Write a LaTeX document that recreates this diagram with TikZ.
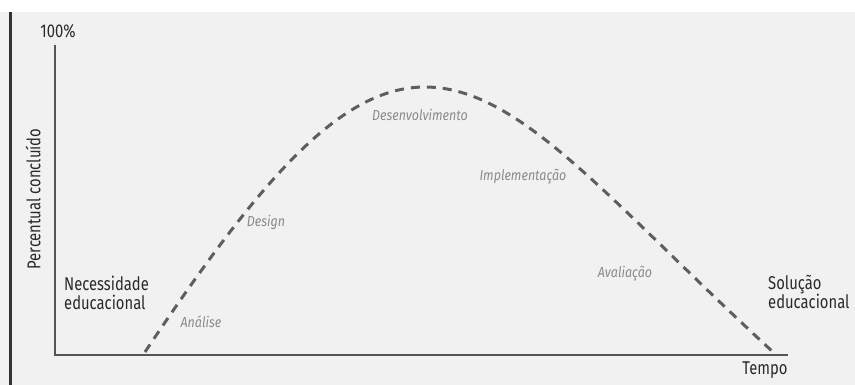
\documentclass[tikz,border=0pt]{standalone}
\usepackage{fontspec}
\setmainfont{Fira Sans}
\newfontfamily\narrowsans[FakeStretch=0.8]{Fira Sans}
\newfontfamily\stagesans[FakeStretch=0.86]{Fira Sans}
\begin{document}
\begin{tikzpicture}[x=1pt,y=-1pt,
  axis/.style={draw=axisgray,line width=2pt},
  phase/.style={dash pattern=on 9pt off 7pt,line width=3pt,draw=curvegray},
  stage/.style={font=\stagesans\fontsize{14.5}{16}\selectfont\itshape,text=labelgray,inner sep=0pt},
  endlabel/.style={font=\narrowsans\fontsize{18.5}{19}\selectfont,text=textdark,align=left,inner sep=0pt},
  axlabel/.style={font=\narrowsans\fontsize{18.5}{18}\selectfont,text=textdark,inner sep=0pt}]
\definecolor{bggray}{HTML}{F1F1F1}
\definecolor{axisgray}{HTML}{555555}
\definecolor{curvegray}{HTML}{5E5E5E}
\definecolor{labelgray}{HTML}{8A8A8A}
\definecolor{textdark}{HTML}{2A2A2A}
% canvas
\useasboundingbox (0,0) rectangle (855,385);
\fill[white] (0,0) rectangle (855,12);
\fill[bggray] (0,12) rectangle (855,385);
\fill[black!80] (9,12) rectangle (11.5,385);
% axes
\coordinate (top) at (55,45);
\coordinate (origin) at (55,355);
\coordinate (right) at (788,355);
\draw[axis] (top) -- (origin) -- (right);
\node[axlabel,anchor=base] (pct) at (58,38) {100\%};
\node[axlabel,rotate=90] (ylab) at (33,199) {Percentual concluído};
\node[axlabel] (xlab) at (765,370) {Tempo};
% start and end
\node[endlabel,anchor=base west] (need) at (64,309) {Necessidade\\educacional};
\node[endlabel,anchor=base west] (sol) at (768,308) {Solução\\educacional};
% the curve
\coordinate (start) at (145,352);
\coordinate (peak) at (425,87);
\coordinate (finish) at (773,352);
\draw[phase] (start) .. controls (260,180) and (340,87) .. (peak)
  .. controls (520,87) and (608,200) .. (finish);
% phase labels
\node[stage] (ana) at (201,322) {Análise};
\node[stage] (des) at (266,222) {Design};
\node[stage] (dev) at (420,115) {Desenvolvimento};
\node[stage] (imp) at (523,177) {Implementação};
\node[stage] (ava) at (625,274) {Avaliação};
\end{tikzpicture}
\end{document}
